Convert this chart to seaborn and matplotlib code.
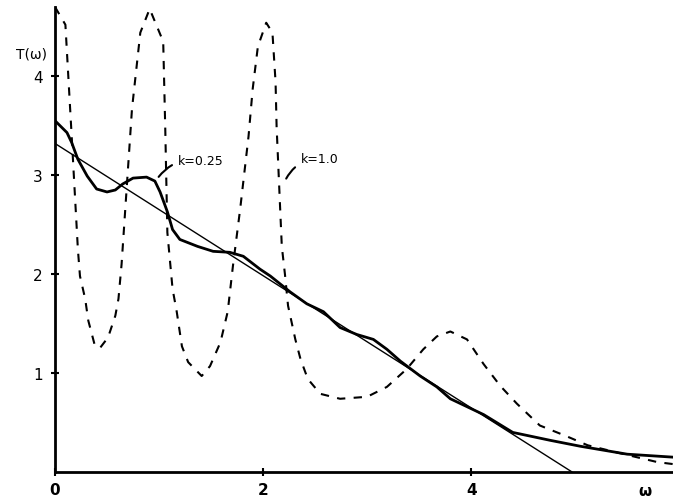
import matplotlib
matplotlib.use("Agg")
import matplotlib.pyplot as plt
import seaborn as sns
import pandas as pd

sns.set_theme(style="white")
plt.rcParams['font.family'] = ['DejaVu Sans']
plt.rcParams['text.color'] = 'black'

# straight line (asymptote)
line_w = [0.0, 4.97]
line_T = [3.32, 0.0]

# k = 0.25 (solid)
k025_w = [0.0, 0.115, 0.16, 0.22, 0.31, 0.40, 0.50, 0.58, 0.65, 0.75, 0.88, 0.96, 1.01,
          1.08, 1.13, 1.20, 1.37, 1.52, 1.68, 1.81, 1.97, 2.07, 2.26, 2.42, 2.58, 2.74,
          2.90, 3.06, 3.19, 3.32, 3.51, 3.67, 3.80, 4.12, 4.40, 4.76, 5.05, 5.50, 5.94]
k025_T = [3.55, 3.43, 3.33, 3.16, 2.99, 2.86, 2.83, 2.85, 2.91, 2.97, 2.98, 2.94, 2.83,
          2.63, 2.45, 2.35, 2.28, 2.23, 2.22, 2.18, 2.05, 1.98, 1.82, 1.70, 1.62, 1.46,
          1.39, 1.34, 1.24, 1.12, 0.97, 0.86, 0.74, 0.58, 0.40, 0.32, 0.26, 0.18, 0.15]

# k = 1.0 (dashed)
k10_w = [0.0, 0.10, 0.16, 0.22, 0.24, 0.29, 0.32, 0.38, 0.43, 0.51, 0.58, 0.61, 0.64,
         0.74, 0.82, 0.91, 1.04, 1.06, 1.08, 1.13, 1.17, 1.22, 1.28, 1.41, 1.49, 1.59,
         1.66, 1.71, 1.78, 1.86, 1.90, 1.95, 2.03, 2.09, 2.12, 2.13, 2.16, 2.18, 2.21,
         2.24, 2.31, 2.36, 2.43, 2.55, 2.74, 3.00, 3.19, 3.38, 3.54, 3.67, 3.80, 3.96,
         4.12, 4.28, 4.44, 4.66, 4.92, 5.12, 5.43, 5.79, 5.94]
k10_T = [4.70, 4.52, 3.40, 2.25, 1.98, 1.75, 1.53, 1.29, 1.25, 1.36, 1.58, 1.75, 2.10,
         3.67, 4.44, 4.68, 4.35, 3.46, 2.42, 1.85, 1.62, 1.27, 1.11, 0.97, 1.07, 1.31,
         1.62, 2.08, 2.66, 3.39, 3.87, 4.30, 4.54, 4.44, 3.94, 3.49, 2.76, 2.28, 2.00,
         1.68, 1.34, 1.14, 0.94, 0.79, 0.74, 0.76, 0.86, 1.04, 1.24, 1.37, 1.42, 1.34,
         1.09, 0.87, 0.69, 0.47, 0.36, 0.27, 0.19, 0.10, 0.08]

y_ticks = [1, 2, 3, 4]
x_ticks = [0, 2, 4]

fig = plt.figure(figsize=(6.73, 5.02), dpi=100)
ax = fig.add_axes([55 / 673, 29 / 502, 618 / 673, 473 / 502])

sns.lineplot(x=line_w, y=line_T, ax=ax, color="black", lw=1.0, sort=False)
sns.lineplot(x=k025_w, y=k025_T, ax=ax, color="black", lw=2.0, sort=False)
sns.lineplot(x=k10_w, y=k10_T, ax=ax, color="black", lw=1.5, sort=False,
             linestyle=(0, (4, 4)))

ax.set_xlim(0, 5.94)
ax.set_ylim(0, 4.78)
for s in ["top", "right"]:
    ax.spines[s].set_visible(False)
for s in ["left", "bottom"]:
    ax.spines[s].set_color("black")
    ax.spines[s].set_linewidth(2)
ax.spines["left"].set_bounds(0, 4.7)

ax.set_yticks(y_ticks)
ax.set_yticklabels([str(t) for t in y_ticks], fontsize=11, color="black")
ax.set_xticks(x_ticks)
ax.set_xticklabels([str(t) for t in x_ticks], fontsize=11, fontweight="bold",
                   color="black")
ax.tick_params(axis="both", direction="inout", length=6, width=1.5, colors="black",
               left=True, bottom=True)
ax.tick_params(axis="y", pad=6)
ax.tick_params(axis="x", pad=4)

fig.text(645 / 673, 1 - 492 / 502, "ω", fontsize=11, fontweight="bold",
         ha="center", va="center", color="black")
fig.text(31 / 673, 1 - 55 / 502, "T(ω)", fontsize=10, ha="center", va="center",
         color="black")

ax.annotate("k=0.25", xy=(0.98, 2.96), xytext=(1.18, 3.15), fontsize=9,
            va="center", ha="left", color="black",
            arrowprops=dict(arrowstyle="-", color="black", lw=1.5,
                            connectionstyle="arc3,rad=0.3"))
ax.annotate("k=1.0", xy=(2.21, 2.94), xytext=(2.36, 3.17), fontsize=9,
            va="center", ha="left", color="black",
            arrowprops=dict(arrowstyle="-", color="black", lw=1.5,
                            connectionstyle="arc3,rad=0.3"))

fig.savefig("out.png", dpi=100)
